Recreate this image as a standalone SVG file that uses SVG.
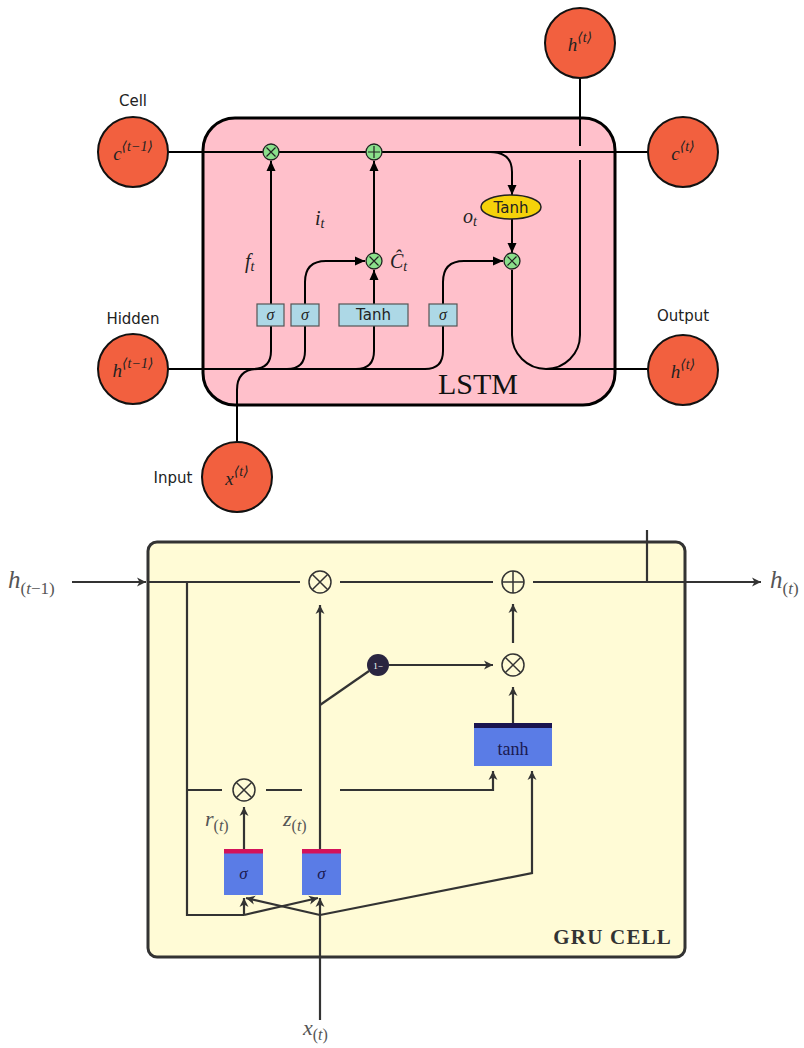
<svg xmlns="http://www.w3.org/2000/svg" width="804" height="1048" viewBox="0 0 804 1048">
<defs>
<marker id="la" markerUnits="userSpaceOnUse" markerWidth="10" markerHeight="10" refX="10" refY="5" orient="auto"><path d="M0,0.5 L10,5 L0,9.5 z" fill="#000"/></marker>
<marker id="ga" markerUnits="userSpaceOnUse" markerWidth="10" markerHeight="10" refX="9" refY="5" orient="auto"><path d="M0,0.5 L9,5 L0,9.5 L2.5,5 z" fill="#333"/></marker>
<style>
.l{fill:none;stroke:#000;stroke-width:2}
.g{fill:none;stroke:#333;stroke-width:2.2}
.node{fill:#F2603F;stroke:#111;stroke-width:2}
.op{fill:#8BE08B;stroke:#222;stroke-width:1.3}
.gate{fill:#ADD8E6;stroke:#555;stroke-width:1.2}
.sans{font-family:"DejaVu Sans","Liberation Sans",sans-serif;font-size:15px;fill:#222}
.math{font-family:"Liberation Serif","DejaVu Serif",serif;font-style:italic;fill:#222}
.gm{font-family:"Liberation Serif","DejaVu Serif",serif;font-style:italic;fill:#555}
.gbox{fill:#5A7CE6}
.gop{fill:none;stroke:#333;stroke-width:1.5}
</style>
</defs>

<!-- ================= LSTM ================= -->
<g id="lstm-box"><rect x="203" y="118" width="412" height="287" rx="32" fill="#FFC0CB" stroke="#000" stroke-width="3"/>
<text x="478" y="394" text-anchor="middle" font-family="Liberation Serif, serif" font-size="30" fill="#111">LSTM</text></g>

<g id="lstm-connectors">
<path class="l" d="M168,152 H648"/>
<path class="l" d="M580,78 V146"/>
<path class="l" d="M490,152 Q512,152 512,172 V195" marker-end="url(#la)"/>
<path class="l" d="M512,219 V253" marker-end="url(#la)"/>
<path class="l" d="M512,270 V335 A34,34 0 0 0 580,335 V160"/>
<path class="l" d="M546,369 H648"/>
<path class="l" d="M168,369 H425 Q443,369 443,351 V304"/>
<path class="l" d="M253,369 Q271,369 271,351 V161" marker-end="url(#la)"/>
<path class="l" d="M287,369 Q305,369 305,351 V304"/>
<path class="l" d="M305,304 V282 Q305,261 326,261 H365" marker-end="url(#la)"/>
<path class="l" d="M356,369 Q374,369 374,351 V304"/>
<path class="l" d="M374,304 V270" marker-end="url(#la)"/>
<path class="l" d="M374,253 V161" marker-end="url(#la)"/>
<path class="l" d="M443,304 V282 Q443,261 464,261 H503" marker-end="url(#la)"/>
<path class="l" d="M237,442 V390 Q237,369 258,369"/>
</g>

<g id="lstm-ops">
<g id="op-f"><circle class="op" cx="271" cy="152" r="8"/><path d="M266.5,147.5 L275.5,156.5 M275.5,147.5 L266.5,156.5" stroke="#222" stroke-width="1.2"/></g>
<g id="op-add"><circle class="op" cx="374" cy="152" r="8"/><path d="M368,152 H380 M374,146 V158" stroke="#222" stroke-width="1.2"/></g>
<g id="op-i"><circle class="op" cx="374" cy="261" r="8"/><path d="M369.5,256.5 L378.5,265.5 M378.5,256.5 L369.5,265.5" stroke="#222" stroke-width="1.2"/></g>
<g id="op-o"><circle class="op" cx="512" cy="261" r="8"/><path d="M507.5,256.5 L516.5,265.5 M516.5,256.5 L507.5,265.5" stroke="#222" stroke-width="1.2"/></g>
<g id="tanh-ell"><ellipse cx="511" cy="207" rx="30" ry="12" fill="#F5D20A" stroke="#222" stroke-width="1.5"/><text class="sans" x="511" y="212.5" text-anchor="middle">Tanh</text></g>
</g>

<g id="lstm-gates">
<g id="g-f"><rect class="gate" x="257" y="304" width="27" height="22"/><text class="math" x="270.5" y="320" text-anchor="middle" font-size="16">σ</text></g>
<g id="g-i"><rect class="gate" x="291" y="304" width="28" height="22"/><text class="math" x="305" y="320" text-anchor="middle" font-size="16">σ</text></g>
<g id="g-t"><rect class="gate" x="339" y="304" width="69" height="22"/><text class="sans" x="373.5" y="320" text-anchor="middle">Tanh</text></g>
<g id="g-o"><rect class="gate" x="429" y="304" width="28" height="22"/><text class="math" x="443" y="320" text-anchor="middle" font-size="16">σ</text></g>
</g>

<g id="lstm-labels">
<text class="math" x="245" y="268" font-size="20">f<tspan font-size="14" dy="3">t</tspan></text>
<text class="math" x="315" y="225" font-size="20">i<tspan font-size="14" dy="3">t</tspan></text>
<text class="math" x="390" y="268" font-size="20">Ĉ<tspan font-size="14" dy="3">t</tspan></text>
<text class="math" x="463" y="223" font-size="20">o<tspan font-size="14" dy="3">t</tspan></text>
</g>

<g id="n-cprev"><circle class="node" cx="133" cy="152" r="35"/><text class="math" x="133" y="160" text-anchor="middle" font-size="19">c<tspan font-size="14" dy="-9">⟨t−1⟩</tspan></text><text class="sans" x="133" y="106" text-anchor="middle">Cell</text></g>
<g id="n-ct"><circle class="node" cx="683" cy="152" r="35"/><text class="math" x="683" y="160" text-anchor="middle" font-size="19">c<tspan font-size="14" dy="-9">⟨t⟩</tspan></text></g>
<g id="n-htop"><circle class="node" cx="580" cy="43" r="35"/><text class="math" x="580" y="51" text-anchor="middle" font-size="19">h<tspan font-size="14" dy="-9">⟨t⟩</tspan></text></g>
<g id="n-hprev"><circle class="node" cx="133" cy="369" r="35"/><text class="math" x="133" y="377" text-anchor="middle" font-size="19">h<tspan font-size="14" dy="-9">⟨t−1⟩</tspan></text><text class="sans" x="133" y="324" text-anchor="middle">Hidden</text></g>
<g id="n-hout"><circle class="node" cx="683" cy="370" r="35"/><text class="math" x="683" y="378" text-anchor="middle" font-size="19">h<tspan font-size="14" dy="-9">⟨t⟩</tspan></text><text class="sans" x="683" y="321" text-anchor="middle">Output</text></g>
<g id="n-x"><circle class="node" cx="237" cy="477" r="35"/><text class="math" x="237" y="485" text-anchor="middle" font-size="19">x<tspan font-size="14" dy="-9">⟨t⟩</tspan></text><text class="sans" x="173" y="483" text-anchor="middle">Input</text></g>

<!-- ================= GRU ================= -->
<g id="gru-box"><rect x="148" y="542" width="537" height="415" rx="9" fill="#FFFBD6" stroke="#333" stroke-width="3"/>
<text x="672" y="944" text-anchor="end" font-family="Liberation Serif, serif" font-weight="bold" font-size="21" letter-spacing="1.2" fill="#333">GRU CELL</text></g>

<g id="gru-connectors">
<path class="g" d="M72,582 H146" marker-end="url(#ga)"/>
<path class="g" d="M148,582 H300"/>
<path class="g" d="M340,582 H493"/>
<path class="g" d="M533,582 H761" marker-end="url(#ga)"/>
<path class="g" d="M647,530 V582"/>
<path class="g" d="M187,582 V915 H244"/>
<path class="g" d="M187,790 H222"/>
<path class="g" d="M266,790 H302"/>
<path class="g" d="M340,790 H493 V771" marker-end="url(#ga)"/>
<path class="g" d="M320,849 V605" marker-end="url(#ga)"/>
<path class="g" d="M320,705 L369,671"/>
<path class="g" d="M389,665 H493" marker-end="url(#ga)"/>
<path class="g" d="M513,643 V604" marker-end="url(#ga)"/>
<path class="g" d="M513,723 V687" marker-end="url(#ga)"/>
<path class="g" d="M244,849 V807" marker-end="url(#ga)"/>
<path class="g" d="M244,915 V898" marker-end="url(#ga)"/>
<path class="g" d="M244,915 L318,898" marker-end="url(#ga)"/>
<path class="g" d="M320,1020 V898" marker-end="url(#ga)"/>
<path class="g" d="M320,915 L246,898" marker-end="url(#ga)"/>
<path class="g" d="M320,915 L532,873 V771" marker-end="url(#ga)"/>
</g>

<g id="gru-ops">
<g id="gop-top"><circle class="gop" cx="320" cy="582" r="11"/><path class="gop" d="M312.2,574.2 L327.8,589.8 M327.8,574.2 L312.2,589.8"/></g>
<g id="gop-add"><circle class="gop" cx="513" cy="582" r="11"/><path class="gop" d="M502,582 H524 M513,571 V593"/></g>
<g id="gop-mid"><circle class="gop" cx="513" cy="665" r="11"/><path class="gop" d="M505.2,657.2 L520.8,672.8 M520.8,657.2 L505.2,672.8"/></g>
<g id="gop-r"><circle class="gop" cx="244" cy="790" r="11"/><path class="gop" d="M236.2,782.2 L251.8,797.8 M251.8,782.2 L236.2,797.8"/></g>
<g id="one-minus"><circle cx="378" cy="665" r="11" fill="#2A2540"/><text x="378" y="668.5" text-anchor="middle" font-family="Liberation Serif, serif" font-size="9" fill="#fff">1−</text></g>
</g>

<g id="gru-gates">
<g id="gg-r"><rect class="gbox" x="224" y="849" width="39" height="46"/><rect x="224" y="849" width="39" height="4.5" fill="#D3125A"/><text x="243.5" y="879" text-anchor="middle" font-family="Liberation Serif, serif" font-style="italic" font-size="17" fill="#1A1A50">σ</text></g>
<g id="gg-z"><rect class="gbox" x="302" y="849" width="39" height="46"/><rect x="302" y="849" width="39" height="4.5" fill="#D3125A"/><text x="321.5" y="879" text-anchor="middle" font-family="Liberation Serif, serif" font-style="italic" font-size="17" fill="#1A1A50">σ</text></g>
<g id="gg-tanh"><rect class="gbox" x="474" y="723" width="78" height="43"/><rect x="474" y="723" width="78" height="5" fill="#1A1450"/><text x="513" y="755" text-anchor="middle" font-family="Liberation Serif, serif" font-size="18" fill="#1A1A50">tanh</text></g>
</g>

<g id="gru-labels">
<text class="gm" x="8" y="588" font-size="25">h<tspan font-size="17" font-style="normal" dy="6">(</tspan><tspan font-size="17">t</tspan><tspan font-size="17" font-style="normal">−1)</tspan></text>
<text class="gm" x="770" y="588" font-size="25">h<tspan font-size="17" font-style="normal" dy="6">(</tspan><tspan font-size="17">t</tspan><tspan font-size="17" font-style="normal">)</tspan></text>
<text class="gm" x="205" y="826" font-size="22">r<tspan font-size="16" font-style="normal" dy="5">(</tspan><tspan font-size="16">t</tspan><tspan font-size="16" font-style="normal">)</tspan></text>
<text class="gm" x="283" y="826" font-size="22">z<tspan font-size="16" font-style="normal" dy="5">(</tspan><tspan font-size="16">t</tspan><tspan font-size="16" font-style="normal">)</tspan></text>
<text class="gm" x="303" y="1035" font-size="22">x<tspan font-size="16" font-style="normal" dy="5">(</tspan><tspan font-size="16">t</tspan><tspan font-size="16" font-style="normal">)</tspan></text>
</g>
</svg>
